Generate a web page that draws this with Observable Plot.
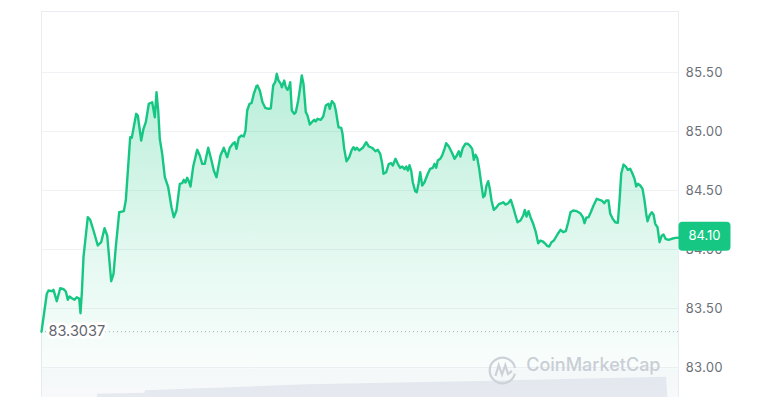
<!DOCTYPE html>
<html>
<head>
<meta charset="utf-8">
<script src="https://cdn.jsdelivr.net/npm/d3@7"></script>
<script src="https://cdn.jsdelivr.net/npm/@observablehq/plot@0.6"></script>
<style>
html, body { margin: 0; padding: 0; background: #fff; }
#wrap { position: relative; width: 776px; height: 408px; font-family: Inter, "Noto Sans", sans-serif; }
#wrap svg { position: absolute; left: 0; }
</style>
</head>
<body>
<div id="wrap"></div>
<script>
// time (hours since start of the 24h window)
const times = [0, 0.200, 0.264, 0.388, 0.452, 0.576, 0.705, 0.829, 0.916, 0.991, 1.055, 1.142, 1.243, 1.330, 1.420, 1.469, 1.518, 1.582, 1.744, 1.835, 1.959, 2.121, 2.249, 2.374, 2.475, 2.626, 2.713, 2.799, 2.928, 3.101, 3.176, 3.342, 3.402, 3.568, 3.628, 3.756, 3.843, 3.930, 4.043, 4.171, 4.269, 4.333, 4.397, 4.457, 4.548, 4.646, 4.774, 4.898, 4.985, 5.086, 5.211, 5.301, 5.361, 5.426, 5.490, 5.550, 5.614, 5.716, 5.866, 5.964, 6.055, 6.153, 6.281, 6.405, 6.492, 6.594, 6.744, 6.869, 6.997, 7.095, 7.208, 7.283, 7.347, 7.434, 7.535, 7.622, 7.686, 7.750, 7.837, 7.912, 7.999, 8.101, 8.138, 8.225, 8.327, 8.428, 8.553, 8.639, 8.730, 8.805, 8.865, 8.929, 9.016, 9.054, 9.144, 9.205, 9.269, 9.333, 9.370, 9.431, 9.521, 9.581, 9.672, 9.747, 9.807, 9.871, 9.958, 10.022, 10.109, 10.211, 10.275, 10.335, 10.399, 10.523, 10.614, 10.712, 10.813, 10.862, 10.938, 11.028, 11.088, 11.190, 11.292, 11.341, 11.405, 11.491, 11.593, 11.691, 11.755, 11.819, 11.880, 11.970, 12.106, 12.234, 12.332, 12.460, 12.584, 12.671, 12.761, 12.837, 12.886, 12.987, 13.085, 13.176, 13.236, 13.338, 13.424, 13.515, 13.590, 13.677, 13.741, 13.801, 13.865, 13.929, 13.989, 14.080, 14.140, 14.204, 14.268, 14.344, 14.430, 14.555, 14.645, 14.743, 14.807, 14.871, 14.931, 15.022, 15.097, 15.184, 15.248, 15.346, 15.474, 15.561, 15.648, 15.723, 15.787, 15.874, 15.975, 16.062, 16.137, 16.228, 16.288, 16.352, 16.416, 16.491, 16.578, 16.642, 16.703, 16.766, 16.830, 16.891, 16.955, 17.042, 17.143, 17.245, 17.331, 17.395, 17.482, 17.584, 17.682, 17.772, 17.870, 17.934, 18.047, 18.149, 18.209, 18.273, 18.349, 18.424, 18.526, 18.624, 18.714, 18.801, 18.876, 18.963, 19.053, 19.129, 19.215, 19.302, 19.377, 19.468, 19.555, 19.656, 19.754, 19.845, 19.931, 20.033, 20.169, 20.297, 20.395, 20.459, 20.523, 20.610, 20.696, 20.798, 20.922, 21.024, 21.111, 21.201, 21.277, 21.363, 21.427, 21.525, 21.616, 21.714, 21.778, 21.842, 21.929, 22.015, 22.091, 22.181, 22.268, 22.343, 22.407, 22.467, 22.558, 22.645, 22.720, 22.784, 22.833, 22.908, 22.995, 23.059, 23.123, 23.209, 23.285, 23.372, 23.436, 23.511, 23.624, 23.749, 23.877, 24];

// price (USD)
const prices = [83.3037, 83.625, 83.653, 83.647, 83.658, 83.562, 83.672, 83.664, 83.644, 83.574, 83.602, 83.587, 83.574, 83.596, 83.585, 83.460, 83.627, 83.935, 84.274, 84.252, 84.161, 84.034, 84.062, 84.181, 84.119, 83.731, 83.794, 84.020, 84.316, 84.325, 84.415, 84.952, 84.947, 85.150, 85.136, 84.924, 85.023, 85.079, 85.235, 85.248, 85.121, 85.333, 85.178, 84.938, 84.811, 84.613, 84.528, 84.358, 84.274, 84.331, 84.557, 84.562, 84.591, 84.568, 84.608, 84.579, 84.534, 84.703, 84.845, 84.797, 84.726, 84.726, 84.862, 84.754, 84.669, 84.613, 84.797, 84.862, 84.782, 84.862, 84.896, 84.909, 84.853, 84.947, 84.966, 84.958, 85.008, 85.178, 85.235, 85.240, 85.319, 85.386, 85.390, 85.347, 85.248, 85.201, 85.192, 85.197, 85.390, 85.418, 85.489, 85.432, 85.404, 85.375, 85.432, 85.375, 85.353, 85.381, 85.418, 85.178, 85.150, 85.164, 85.263, 85.375, 85.475, 85.404, 85.164, 85.136, 85.059, 85.085, 85.099, 85.085, 85.108, 85.099, 85.127, 85.220, 85.235, 85.192, 85.257, 85.235, 85.178, 85.036, 85.031, 84.981, 84.853, 84.748, 84.782, 84.845, 84.867, 84.845, 84.862, 84.839, 84.862, 84.909, 84.873, 84.862, 84.833, 84.845, 84.811, 84.726, 84.642, 84.655, 84.726, 84.731, 84.712, 84.769, 84.726, 84.692, 84.703, 84.681, 84.703, 84.669, 84.714, 84.669, 84.570, 84.494, 84.486, 84.557, 84.655, 84.542, 84.570, 84.642, 84.684, 84.692, 84.726, 84.692, 84.754, 84.769, 84.797, 84.853, 84.901, 84.873, 84.816, 84.769, 84.797, 84.833, 84.788, 84.862, 84.896, 84.896, 84.881, 84.853, 84.760, 84.803, 84.777, 84.684, 84.542, 84.443, 84.458, 84.542, 84.579, 84.514, 84.415, 84.336, 84.358, 84.387, 84.392, 84.401, 84.381, 84.392, 84.421, 84.358, 84.280, 84.231, 84.246, 84.288, 84.336, 84.280, 84.325, 84.274, 84.218, 84.147, 84.053, 84.076, 84.070, 84.053, 84.031, 84.025, 84.062, 84.076, 84.104, 84.138, 84.167, 84.147, 84.155, 84.231, 84.316, 84.331, 84.325, 84.308, 84.274, 84.223, 84.269, 84.274, 84.316, 84.373, 84.430, 84.421, 84.415, 84.392, 84.415, 84.415, 84.303, 84.260, 84.231, 84.226, 84.415, 84.642, 84.720, 84.703, 84.675, 84.684, 84.642, 84.599, 84.534, 84.557, 84.542, 84.514, 84.415, 84.303, 84.240, 84.288, 84.316, 84.297, 84.218, 84.189, 84.062, 84.119, 84.127, 84.091, 84.082, 84.091, 84.099, 84.10];

// volume strip (arbitrary units at the bottom)
const volTimes = [2.10, 2.11, 3.90, 3.92, 10.0, 17.0, 23.55, 23.60];
const volumes  = [0, 1.0, 1.3, 2.0, 3.8, 4.9, 6.1, 0];

const yTicks = [83.00, 83.50, 84.00, 84.50, 85.00, 85.50];
const openPrice = 83.3037;
const lastPrice = 84.10;
const xDomain = [0, 24];
const yDomain = [82.746, 86.017];

const green = "#16c784";
const grid = "#eff1f4";
const labelColor = "#6b6f78";

const data = times.map((t, i) => ({t, p: prices[i]})).filter(d => d.p != null);
const volData = volTimes.map((t, i) => ({t, v: volumes[i]}));

const badge = {
  draw(ctx) {
    const w = 26, h = 14.5, r = 4;
    ctx.moveTo(-w + r, -h);
    ctx.lineTo(w - r, -h);
    ctx.arcTo(w, -h, w, -h + r, r);
    ctx.lineTo(w, h - r);
    ctx.arcTo(w, h, w - r, h, r);
    ctx.lineTo(-w + r, h);
    ctx.arcTo(-w, h, -w, h - r, r);
    ctx.lineTo(-w, -h + r);
    ctx.arcTo(-w, -h, -w + r, -h, r);
    ctx.closePath();
  }
};

const logo = {
  draw(ctx) {
    ctx.moveTo(12.4, 3.2);
    ctx.arc(0, 0, 12.8, 0.26, 2 * Math.PI - 0.2);
    ctx.moveTo(-7, 5.5);
    ctx.lineTo(-3.8, -5.5);
    ctx.lineTo(-0.5, 4);
    ctx.lineTo(2.8, -5.5);
    ctx.lineTo(5.5, 3.5);
    ctx.lineTo(9.5, 0.5);
  }
};

const gradientDefs = () => {
  const ns = "http://www.w3.org/2000/svg";
  const defs = document.createElementNS(ns, "defs");
  const lg = document.createElementNS(ns, "linearGradient");
  lg.setAttribute("id", "cmcGrad");
  lg.setAttribute("x1", "0"); lg.setAttribute("y1", "0");
  lg.setAttribute("x2", "0"); lg.setAttribute("y2", "1");
  [["0%", 0.30], ["55%", 0.12], ["100%", 0.0]].forEach(([o, a]) => {
    const s = document.createElementNS(ns, "stop");
    s.setAttribute("offset", o);
    s.setAttribute("stop-color", green);
    s.setAttribute("stop-opacity", a);
    lg.appendChild(s);
  });
  defs.appendChild(lg);
  return defs;
};

const wrap = document.getElementById("wrap");

// volume strip (under the main chart)
const vol = Plot.plot({
  width: 776,
  height: 29,
  marginLeft: 41,
  marginRight: 98,
  marginTop: 0,
  marginBottom: 0,
  x: {domain: xDomain, axis: null},
  y: {domain: [0, 8.7], axis: null},
  style: {background: "transparent"},
  marks: [
    Plot.frame({fill: "#f8f9fb", stroke: null}),
    Plot.areaY(volData, {x: "t", y: "v", fill: "#e6e9f0"})
  ]
});
vol.style.top = "368px";
wrap.appendChild(vol);

const chart = Plot.plot({
  width: 776,
  height: 408,
  marginLeft: 41,
  marginRight: 98,
  marginTop: 11,
  marginBottom: 11,
  x: {domain: xDomain, axis: null},
  y: {domain: yDomain},
  style: {background: "transparent", fontFamily: "Inter, 'Noto Sans', sans-serif", overflow: "visible"},
  marks: [
    gradientDefs,
    Plot.ruleY(yTicks, {stroke: grid, strokeWidth: 1}),
    Plot.ruleY([yDomain[1]], {stroke: "#e9ecf0"}),
    Plot.ruleX(xDomain, {stroke: "#e9ecf0"}),
    Plot.areaY(data, {x: "t", y1: yDomain[0], y2: "p", fill: "url(#cmcGrad)"}),
    Plot.ruleY([openPrice], {stroke: "#a6acb8", strokeWidth: 1, strokeDasharray: "1,3"}),
    Plot.text([openPrice], {
      y: d => d, frameAnchor: "left", dx: 7, text: d => d.toFixed(4),
      textAnchor: "start", fontSize: 14.5, fill: "#62656c", stroke: "white", strokeWidth: 6
    }),
    Plot.line(data, {x: "t", y: "p", stroke: green, strokeWidth: 2.4, strokeLinejoin: "round"}),
    Plot.axisY(yTicks, {
      anchor: "right", tickSize: 0, tickPadding: 7, label: null,
      tickFormat: d => d.toFixed(2), fontSize: 13, color: labelColor, fill: labelColor
    }),
    Plot.dot([lastPrice], {x: xDomain[1], y: d => d, dx: 26, dy: -1.5, symbol: badge, fill: green, stroke: null}),
    Plot.text([lastPrice], {x: xDomain[1], y: d => d, dx: 26, dy: -1.5, text: d => d.toFixed(2), fill: "white", fontSize: 13}),
    Plot.dot(["logo"], {frameAnchor: "bottom-right", dx: -176, dy: -27, symbol: logo, fill: "none", stroke: "#cdd2d9", strokeWidth: 2.2}),
    Plot.text(["CoinMarketCap"], {
      frameAnchor: "bottom-right", dx: -18, dy: -27, text: d => d, textAnchor: "end",
      fontSize: 18, fontWeight: 500, fill: "#c9ced6"
    })
  ]
});
chart.style.top = "0px";
wrap.appendChild(chart);
</script>
</body>
</html>
